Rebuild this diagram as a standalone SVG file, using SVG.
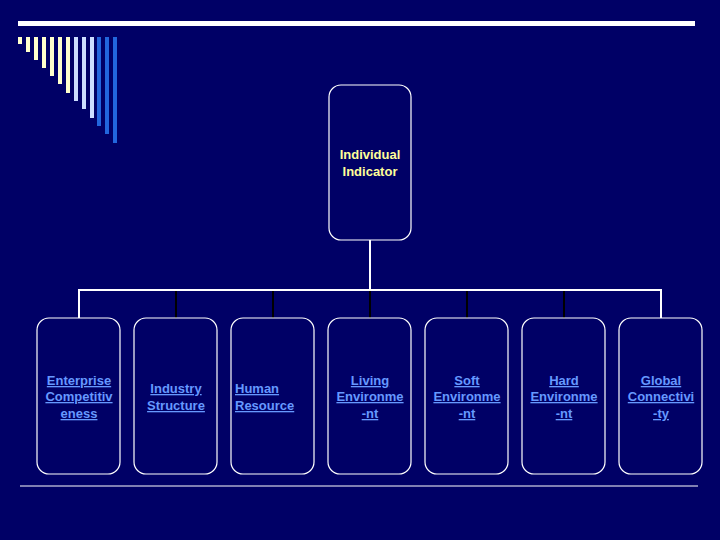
<svg xmlns="http://www.w3.org/2000/svg" width="720" height="540" viewBox="0 0 720 540">
<style>
.box{fill:#000066;stroke:#ffffff;stroke-width:1.2}
.lbl{font-family:"Liberation Sans",Arial,sans-serif;font-size:13px;font-weight:bold;fill:#6699ff;text-decoration:underline;text-anchor:middle}
.top{font-family:"Liberation Sans",Arial,sans-serif;font-size:13px;font-weight:bold;fill:#ffff99;text-anchor:middle}
.w{stroke:#ffffff;stroke-width:2;fill:none}
.d{stroke:#000000;stroke-width:2;fill:none}
</style>
<rect width="720" height="540" fill="#000066"/>
<rect x="18" y="21" width="677" height="5" fill="#ffffff"/>
<g id="stripes">
<rect x="18" y="37" width="4" height="7" fill="#ffffcc"/>
<rect x="26" y="37" width="4" height="15" fill="#ffffcc"/>
<rect x="34" y="37" width="4" height="23" fill="#ffffcc"/>
<rect x="42" y="37" width="4" height="31" fill="#ffffcc"/>
<rect x="50" y="37" width="4" height="39" fill="#ffffcc"/>
<rect x="58" y="37" width="4" height="47" fill="#ffffcc"/>
<rect x="66" y="37" width="4" height="56" fill="#ffffcc"/>
<rect x="74" y="37" width="4" height="64" fill="#ccddff"/>
<rect x="82" y="37" width="4" height="72" fill="#ccddff"/>
<rect x="90" y="37" width="4" height="81" fill="#ccddff"/>
<rect x="97" y="37" width="4" height="89" fill="#2266dd"/>
<rect x="105" y="37" width="4" height="97" fill="#2266dd"/>
<rect x="113" y="37" width="4" height="106" fill="#2266dd"/>
</g>
<line x1="20" y1="486" x2="698" y2="486" stroke="#ffffff" stroke-width="1"/>
<g id="connectors">
<line class="w" x1="370" y1="240" x2="370" y2="290"/>
<polyline class="w" points="79,318 79,290 661,290 661,318"/>
<line class="d" x1="176" y1="291" x2="176" y2="318"/>
<line class="d" x1="273" y1="291" x2="273" y2="318"/>
<line class="d" x1="370" y1="291" x2="370" y2="318"/>
<line class="d" x1="467" y1="291" x2="467" y2="318"/>
<line class="d" x1="564" y1="291" x2="564" y2="318"/>
</g>
<g id="n0"><rect class="box" x="329" y="85" width="82" height="155" rx="12"/><text class="top" x="370" y="159">Individual</text><text class="top" x="370" y="176">Indicator</text></g>
<g id="n1"><rect class="box" x="37" y="318" width="83" height="156" rx="12"/><text class="lbl" x="79" y="385">Enterprise</text><text class="lbl" x="79" y="401">Competitiv</text><text class="lbl" x="79" y="418">eness</text></g>
<g id="n2"><rect class="box" x="134" y="318" width="83" height="156" rx="12"/><text class="lbl" x="176" y="393">Industry</text><text class="lbl" x="176" y="410">Structure</text></g>
<g id="n3"><rect class="box" x="231" y="318" width="83" height="156" rx="12"/><text class="lbl" x="235" y="393" style="text-anchor:start">Human</text><text class="lbl" x="235" y="410" style="text-anchor:start">Resource</text></g>
<g id="n4"><rect class="box" x="328" y="318" width="83" height="156" rx="12"/><text class="lbl" x="370" y="385">Living</text><text class="lbl" x="370" y="401">Environme</text><text class="lbl" x="370" y="418">-nt</text></g>
<g id="n5"><rect class="box" x="425" y="318" width="83" height="156" rx="12"/><text class="lbl" x="467" y="385">Soft</text><text class="lbl" x="467" y="401">Environme</text><text class="lbl" x="467" y="418">-nt</text></g>
<g id="n6"><rect class="box" x="522" y="318" width="83" height="156" rx="12"/><text class="lbl" x="564" y="385">Hard</text><text class="lbl" x="564" y="401">Environme</text><text class="lbl" x="564" y="418">-nt</text></g>
<g id="n7"><rect class="box" x="619" y="318" width="83" height="156" rx="12"/><text class="lbl" x="661" y="385">Global</text><text class="lbl" x="661" y="401">Connectivi</text><text class="lbl" x="661" y="418">-ty</text></g>
</svg>
